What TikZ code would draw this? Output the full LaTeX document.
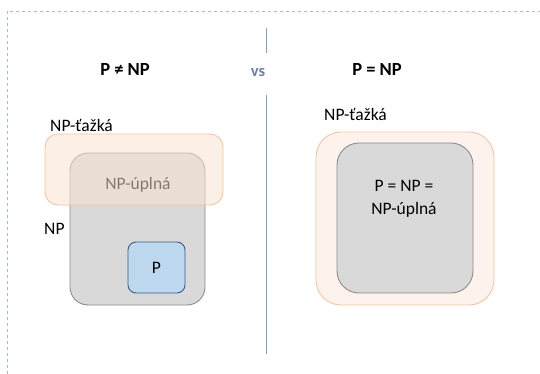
\documentclass[tikz,border=0pt]{standalone}
\usepackage{fontspec}
\setmainfont{Carlito}
\definecolor{hardfill}{HTML}{FBE3D2}
\definecolor{harddraw}{HTML}{F4C5A3}
\definecolor{hardpale}{HTML}{FDF3EC}
\definecolor{npfill}{HTML}{D9D9D9}
\definecolor{npdraw}{HTML}{8C8C8C}
\definecolor{pfill}{HTML}{BDD7EE}
\definecolor{pdraw}{HTML}{3B5A8C}
\definecolor{vscol}{HTML}{6E7FA0}
\definecolor{divcol}{HTML}{8A9AB2}
\definecolor{framecol}{HTML}{A9B9CF}
\definecolor{npctext}{HTML}{857A72}
\begin{document}
\begin{tikzpicture}[x=1pt,y=-1pt,
  hardset/.style={draw=harddraw, line width=0.9pt, fill=hardfill, fill opacity=0.55},
  hardouter/.style={draw=harddraw, line width=0.9pt, fill=hardpale},
  npset/.style={draw=npdraw, line width=0.9pt, fill=npfill},
  pset/.style={draw=pdraw, line width=0.9pt, fill=pfill},
  lbl/.style={font=\fontsize{17.5}{20}\selectfont, inner sep=0pt},
  title/.style={font=\bfseries\fontsize{18.5}{22}\selectfont, inner sep=0pt},
  divider/.style={draw=divcol, line width=0.8pt}
]
\useasboundingbox (0,0) rectangle (540,374);
\fill[white] (0,0) rectangle (540,374);

% dashed frame
\coordinate (ftl) at (7,11);
\coordinate (ftr) at (540,11);
\coordinate (fbl) at (7,374);
\draw[framecol, dashed, line width=0.6pt] (fbl) -- (ftl) -- (ftr);

% divider with the "vs" in the gap
\coordinate (d1) at (266,28);
\coordinate (d2) at (266,53);
\coordinate (d3) at (266,95);
\coordinate (d4) at (266,354);
\draw[divider] (d1) -- (d2);
\draw[divider] (d3) -- (d4);
\node[inner sep=0pt, text=vscol, font=\bfseries\fontsize{16.5}{18}\selectfont] (vs) at (258,72) {vs};

% titles
\node[title] (tleft) at (125,70) {P \char"2260\ NP};
\node[title] (tright) at (377,70) {P = NP};

% left: P != NP
\draw[npset, rounded corners=18pt] (70,153) rectangle (205,305);
\draw[hardset, rounded corners=13pt] (45,134) rectangle (223,205);
\node[lbl, text=npctext] (npc) at (138,185) {NP-úplná};
\draw[pset, rounded corners=8pt] (128,242) rectangle (185,293);
\node[lbl] (p) at (156.5,267.5) {P};
\node[lbl, anchor=west] (hardl) at (50,125) {NP-ťažká};
\node[lbl, anchor=west] (npl) at (44,229) {NP};

% right: P = NP
\draw[hardouter, rounded corners=25pt] (316,132) rectangle (494,305);
\draw[npset, rounded corners=22pt] (337,143) rectangle (473,293);
\node[lbl, align=center] (eq) at (404,199) {P = NP =\\[3pt]NP-úplná};
\node[lbl, anchor=west] (hardr) at (324,114) {NP-ťažká};
\end{tikzpicture}
\end{document}
